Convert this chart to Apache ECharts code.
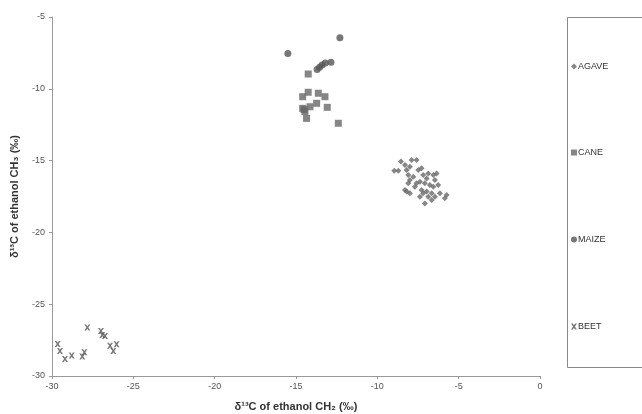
<!DOCTYPE html>
<html><head><meta charset="utf-8">
<script src="https://cdn.jsdelivr.net/npm/echarts@6/dist/echarts.min.js"></script>
<style>html,body{margin:0;padding:0;background:#fff}#c{width:642px;height:414px}</style>
</head><body><div id="c"></div>
<script>
const seriesNames = ['AGAVE', 'CANE', 'MAIZE', 'BEET'];
const xTicks = [-30, -25, -20, -15, -10, -5, 0];
const yTicks = [-30, -25, -20, -15, -10, -5];
const agave = [
 [-8.96,-15.70],[-8.71,-15.70],[-8.55,-15.07],[-8.30,-15.31],[-7.89,-14.96],[-7.59,-14.96],
 [-8.20,-15.65],[-8.10,-16.00],[-8.00,-16.35],[-8.10,-16.58],[-8.20,-17.16],[-8.00,-17.28],
 [-7.48,-15.65],[-7.28,-15.54],[-7.18,-16.00],[-6.97,-16.24],[-6.87,-15.89],[-6.56,-16.00],
 [-6.36,-15.89],[-6.46,-16.35],[-7.59,-16.58],[-7.38,-16.47],[-7.08,-16.58],[-6.77,-16.70],
 [-6.56,-16.82],[-6.26,-16.70],[-7.28,-17.05],[-7.18,-17.28],[-6.97,-17.16],[-6.87,-17.51],
 [-6.66,-17.28],[-6.46,-17.51],[-6.15,-17.28],[-5.85,-17.63],[-5.74,-17.40],[-7.08,-17.98],
 [-6.66,-17.74],[-7.79,-16.12],[-7.69,-16.82],[-8.30,-17.05],[-8.00,-15.42],[-7.38,-17.51]
];
const cane = [
 [-14.25,-8.97],[-14.59,-10.55],[-14.25,-10.24],[-13.63,-10.31],[-13.22,-10.55],[-13.73,-11.01],
 [-14.14,-11.25],[-14.59,-11.36],[-14.45,-11.59],[-14.35,-12.06],[-13.08,-11.29],[-12.40,-12.40],
 [-14.50,-11.45]
];
const maize = [
 [-12.30,-6.45],[-15.50,-7.55],[-12.85,-8.15],[-13.20,-8.20],[-13.40,-8.35],[-13.55,-8.50],[-13.70,-8.65]
];
const beet = [
 [-29.65,-27.77],[-29.51,-28.26],[-29.20,-28.81],[-28.79,-28.58],[-28.14,-28.65],[-28.01,-28.35],
 [-27.83,-26.63],[-26.99,-26.86],[-26.91,-27.14],[-26.74,-27.21],[-26.43,-27.89],[-26.23,-28.26],
 [-26.03,-27.79]
];
const xSym = 'path://M0,0L3,0L5,3L7,0L10,0L6.5,5L10,10L7,10L5,7L3,10L0,10L3.5,5Z';
const mk = '#686868';
const chart = echarts.init(document.getElementById('c'), null, {renderer:'canvas'});
const legendTops = [57, 143, 230, 317];
const symbols = ['diamond','rect','circle',xSym];
const sizes = [6,7,7,6];
const datas = [agave, cane, maize, beet];
const font = '"Liberation Sans", Arial, sans-serif';
chart.setOption({
  animation:false,
  backgroundColor:'#fff',
  grid:{left:52, top:17, right:102, bottom:38, containLabel:false, outerBoundsMode:'none'},
  graphic:[{type:'rect', shape:{x:567.5, y:17.5, width:80, height:350}, style:{fill:'none', stroke:'#888', lineWidth:1}, silent:true}],
  legend: seriesNames.map((n,i)=>({
    data:[n], left:566, top:legendTops[i], orient:'vertical', itemWidth:6, itemHeight:6, itemGap:0,
    textStyle:{fontSize:9, color:'#333', fontFamily:font, padding:[0,0,0,-4]}
  })),
  xAxis:{type:'value', min:-30, max:0, interval:5,
    name:'δ¹³C of ethanol CH₂ (‰)', nameLocation:'middle', nameGap:25,
    nameTextStyle:{fontSize:11, fontWeight:'bold', color:'#333', fontFamily:font},
    axisLine:{onZero:false, lineStyle:{color:'#999'}}, axisTick:{show:true, length:3, lineStyle:{color:'#999'}},
    axisLabel:{fontSize:9, color:'#555', fontFamily:font, margin:6, formatter:v=>xTicks.includes(v)?String(v):''},
    splitLine:{show:false}},
  yAxis:{type:'value', min:-30, max:-5, interval:5,
    name:'δ¹³C of ethanol CH₃ (‰)', nameLocation:'middle', nameGap:32, nameRotate:90,
    nameTextStyle:{fontSize:11, fontWeight:'bold', color:'#333', fontFamily:font},
    axisLine:{onZero:false, lineStyle:{color:'#999'}}, axisTick:{show:true, length:3, lineStyle:{color:'#999'}},
    axisLabel:{fontSize:9, color:'#555', fontFamily:font, margin:7, formatter:v=>yTicks.includes(v)?String(v):''},
    splitLine:{show:false}},
  series: seriesNames.map((n,i)=>({
    name:n, type:'scatter', data:datas[i], symbol:symbols[i], symbolSize:sizes[i],
    itemStyle:{color: i===2 ? '#555' : (i===3 ? '#555' : mk)}
  }))
});
</script></body></html>
